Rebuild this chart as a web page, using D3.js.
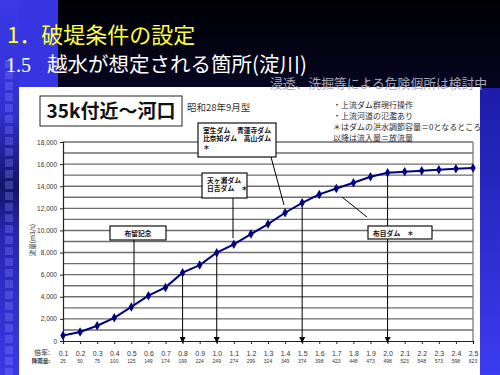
<!DOCTYPE html>
<html lang="ja">
<head>
<meta charset="UTF-8" />
<title>破堤条件の設定 35k付近～河口</title>
<script src="https://d3js.org/d3.v7.min.js"></script>
<style>
  body { margin: 0; background: #000; }
  svg { display: block; font-family: 'Noto Sans CJK JP', sans-serif; }
  .grid line { stroke: #6e6e6e; stroke-width: 1.4; }
  .tick-label { font-size: 6.5px; fill: #333; }
  .note { font-size: 8px; fill: #2a2a2a; }
  .box rect { fill: #fff; stroke: #111; stroke-width: 1.2; }
  .box text { font-size: 6.8px; font-weight: bold; fill: #111; }
  .lead { stroke: #000; stroke-width: 1; fill: none; }
</style>
</head>
<body>
<svg id="chart" width="500" height="375"></svg>
<script>
// 倍率 (category axis) and rainfall row under it
const ratios = ["0.1","0.2","0.3","0.4","0.5","0.6","0.7","0.8","0.9","1.0","1.1","1.2","1.3",
                "1.4","1.5","1.6","1.7","1.8","1.9","2.0","2.1","2.2","2.3","2.4","2.5"];
const rainfall = [25,50,75,100,125,149,174,199,224,249,274,299,324,349,374,398,423,448,473,498,523,548,573,598,623];
// peak discharge (m3/s)
const flow = [500,820,1380,2100,3080,4100,4850,6180,6870,7990,8740,9670,10580,11600,12500,
              13260,13800,14310,14860,15220,15300,15400,15490,15580,15640];
const yTicks = [0,2000,4000,6000,8000,10000,12000,14000,16000,18000];
const arrowAt = ["0.8","1.0","1.5","2.0"];
const notes = ["・上流ダム群現行操作", "・上流河道の氾濫あり",
               "＊はダムの洪水調節容量＝0となるところ", "以降は流入量＝放流量"];

const svg = d3.select("#chart");
const W = 500, H = 375;
const defs = svg.append("defs");

// ---- slide background ----
const gTop = defs.append("linearGradient").attr("id", "gTop").attr("x1", 0).attr("y1", 0).attr("x2", 0).attr("y2", 1);
gTop.append("stop").attr("offset", "0%").attr("stop-color", "#000004");
gTop.append("stop").attr("offset", "100%").attr("stop-color", "#16167a");
const gLeft = defs.append("linearGradient").attr("id", "gLeft").attr("x1", 0).attr("y1", 0).attr("x2", 0).attr("y2", 1);
[["0%","#3a3ae6"],["30%","#3030d0"],["50%","#141468"],["62%","#2626b0"],["100%","#3a3ae6"]]
  .forEach(([o, c]) => gLeft.append("stop").attr("offset", o).attr("stop-color", c));
const gRight = defs.append("linearGradient").attr("id", "gRight").attr("x1", 0).attr("y1", 0).attr("x2", 0).attr("y2", 1);
gRight.append("stop").attr("offset", "0%").attr("stop-color", "#1c1ca8");
gRight.append("stop").attr("offset", "100%").attr("stop-color", "#3c3cf0");

svg.append("rect").attr("width", W).attr("height", H).attr("fill", "url(#gTop)");
svg.append("rect").attr("x", 0).attr("y", 0).attr("width", 58).attr("height", 88).attr("fill", "#3535e2");
svg.append("rect").attr("x", 0).attr("y", 0).attr("width", 19).attr("height", H).attr("fill", "url(#gLeft)");
svg.append("rect").attr("x", 480).attr("y", 88).attr("width", 20).attr("height", H - 88).attr("fill", "url(#gRight)");

svg.append("g").selectAll("rect")
  .data(d3.range(60, H, 11))
  .join("rect")
    .attr("x", 5).attr("y", d => d).attr("width", 8).attr("height", 8)
    .attr("fill", "#7a7aff").attr("fill-opacity", 0.35);

// white panel
svg.append("rect").attr("x", 19).attr("y", 87).attr("width", 461).attr("height", H - 87).attr("fill", "#fff");

// slide titles
svg.append("text").attr("x", 7).attr("y", 43)
  .attr("font-size", 22).attr("fill", "#ffff3c").text("1．破堤条件の設定");
const t2 = svg.append("text").attr("x", 6).attr("y", 72).attr("fill", "#fff");
t2.append("tspan").attr("font-family", "'Liberation Serif', serif").attr("font-size", 20).text("1.5");
t2.append("tspan").attr("x", 47).attr("font-size", 20.5).text("越水が想定される箇所(淀川)");
svg.append("text").attr("x", 270).attr("y", 88)
  .attr("font-size", 12.8).attr("fill", "#a8a8b8").text("浸透、洗掘等による危険個所は検討中");

// ---- chart ----
const x = d3.scalePoint().domain(ratios).range([63, 473]);
const y = d3.scaleLinear().domain([0, 18000]).range([341, 142]);

// gridlines every 1000
svg.append("g").attr("class", "grid")
  .selectAll("line")
  .data(d3.range(1000, 18001, 1000))
  .join("line")
    .attr("x1", x.range()[0]).attr("x2", x.range()[1])
    .attr("y1", d => y(d)).attr("y2", d => y(d));
svg.append("line").attr("x1", 473).attr("x2", 473).attr("y1", y(18000)).attr("y2", y(0))
  .attr("stroke", "#7a7a7a").attr("stroke-width", 1.3);

// y axis
const yAxis = svg.append("g").attr("transform", "translate(63,0)")
  .call(d3.axisLeft(y).tickValues(yTicks).tickSize(3).tickPadding(3).tickFormat(d3.format(",")));
yAxis.select(".domain").attr("stroke", "#222").attr("stroke-width", 1.2);
yAxis.selectAll(".tick line").attr("stroke", "#222");
yAxis.selectAll("text").attr("class", "tick-label").attr("font-family", "'Liberation Sans', sans-serif");

// x axis (category) with two label rows
const xAxis = svg.append("g").attr("transform", `translate(0,${y(0)})`)
  .call(d3.axisBottom(x).tickSize(3).tickPadding(7));
xAxis.select(".domain").attr("stroke", "#222").attr("stroke-width", 1.2);
xAxis.selectAll(".tick line").attr("stroke", "#222");
xAxis.selectAll("text").attr("class", "tick-label").style("font-size", "7px")
  .attr("font-family", "'Liberation Sans', sans-serif");
svg.append("g").selectAll("text")
  .data(ratios)
  .join("text")
    .attr("x", d => x(d)).attr("y", 363)
    .attr("text-anchor", "middle").attr("font-size", 5)
    .attr("font-family", "'Liberation Sans', sans-serif").attr("fill", "#333")
    .text((d, i) => rainfall[i]);
svg.append("text").attr("x", 50).attr("y", 355).attr("text-anchor", "end")
  .attr("font-size", 7).attr("fill", "#333").text("倍率:");
svg.append("text").attr("x", 50).attr("y", 363).attr("text-anchor", "end")
  .attr("font-size", 5.5).attr("font-weight", "bold").attr("fill", "#333").text("降雨量:");

// y axis title
svg.append("text").attr("transform", "translate(35,240) rotate(-90)")
  .attr("text-anchor", "middle").attr("font-size", 6.5).attr("fill", "#333").text("流量(m3/s)");

// arrows down to the x axis
defs.append("marker").attr("id", "arr").attr("viewBox", "0 0 10 10")
  .attr("refX", 10).attr("refY", 5).attr("markerWidth", 6).attr("markerHeight", 6)
  .attr("orient", "auto")
  .append("path").attr("d", "M0,0L10,5L0,10z").attr("fill", "#000");

svg.append("g").selectAll("line")
  .data(arrowAt)
  .join("line")
    .attr("class", "lead")
    .attr("x1", d => x(d)).attr("x2", d => x(d))
    .attr("y1", d => y(flow[ratios.indexOf(d)])).attr("y2", y(0) + 2)
    .attr("marker-end", "url(#arr)");

// leader lines from annotation boxes
const leads = [
  [134, 240, 134, y(3300)],
  [233, 198, 233, y(9300)],
  [271, 157, 284, 205],
  [342, 197, 367, 217]
];
svg.append("g").selectAll("line")
  .data(leads)
  .join("line")
    .attr("class", "lead")
    .attr("x1", d => d[0]).attr("y1", d => d[1])
    .attr("x2", d => d[2]).attr("y2", d => d[3]);

// series line + diamonds
svg.append("path")
  .datum(flow)
  .attr("fill", "none").attr("stroke", "#000080").attr("stroke-width", 2)
  .attr("d", d3.line().x((d, i) => x(ratios[i])).y(d => y(d)));
svg.append("g").selectAll("path")
  .data(flow)
  .join("path")
    .attr("transform", (d, i) => `translate(${x(ratios[i])},${y(d)})`)
    .attr("d", d3.symbol(d3.symbolDiamond, 26))
    .attr("fill", "#000080");

// annotation boxes
const boxes = [
  { x: 110, y: 226, w: 56, h: 14, lines: ["布留記念"], center: true },
  { x: 202, y: 173, w: 45, h: 25, lines: ["天ヶ瀬ダム", "日吉ダム　＊"] },
  { x: 198, y: 123, w: 78, h: 34, lines: ["室生ダム　青蓮寺ダム", "比奈知ダム　高山ダム", "＊"] },
  { x: 368, y: 226, w: 64, h: 13, lines: ["布目ダム　＊"] }
];
boxes.forEach(b => {
  const g = svg.append("g").attr("class", "box");
  g.append("rect").attr("x", b.x).attr("y", b.y).attr("width", b.w).attr("height", b.h);
  b.lines.forEach((t, i) => {
    g.append("text")
      .attr("x", b.center ? b.x + b.w / 2 : b.x + 5)
      .attr("y", b.y + 9.5 + i * 8.5)
      .attr("text-anchor", b.center ? "middle" : "start")
      .text(t);
  });
});

// title box
svg.append("rect").attr("x", 40).attr("y", 96).attr("width", 142).attr("height", 30)
  .attr("fill", "#fff").attr("stroke", "#222").attr("stroke-width", 1);
svg.append("text").attr("x", 111).attr("y", 118).attr("text-anchor", "middle")
  .attr("font-size", 19).attr("font-weight", "bold").attr("fill", "#111").text("35k付近～河口");

svg.append("text").attr("x", 187).attr("y", 111).attr("font-size", 9.5).attr("fill", "#333").text("昭和28年9月型");

svg.append("g").selectAll("text")
  .data(notes)
  .join("text")
    .attr("class", "note")
    .attr("x", 333).attr("y", (d, i) => [108, 119, 130, 141][i])
    .text(d => d);
</script>
</body>
</html>
